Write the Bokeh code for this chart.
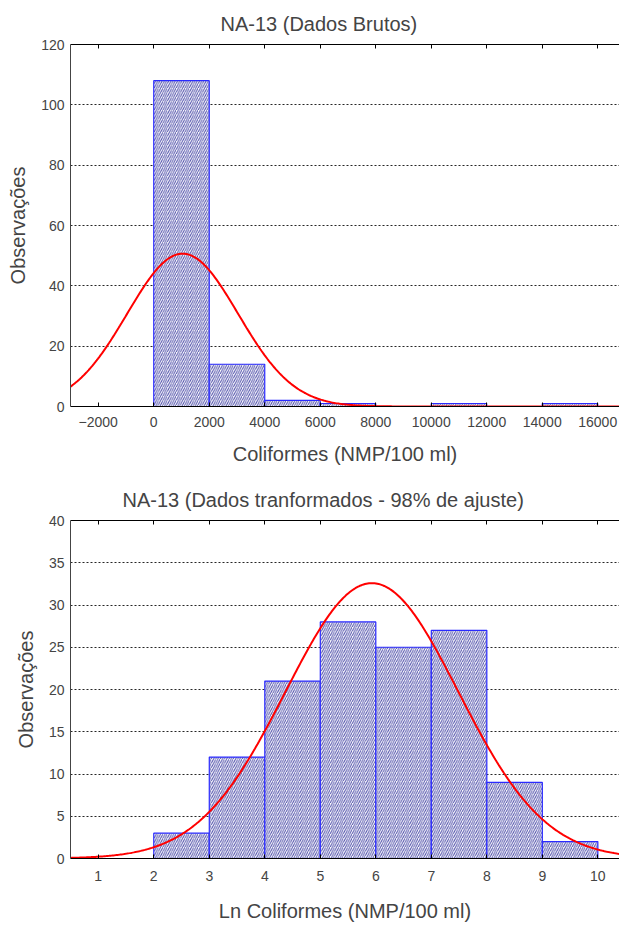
import numpy as np
from bokeh.plotting import figure
from bokeh.layouts import column
from bokeh.models import Range1d, FixedTicker, LinearAxis, Title
from bokeh.embed import file_html
from bokeh.resources import INLINE

# ---- data: raw data histogram ----
raw_left = [-2000, 0, 2000, 4000, 6000, 8000, 10000, 12000, 14000]
raw_right = [0, 2000, 4000, 6000, 8000, 10000, 12000, 14000, 16000]
raw_counts = [0, 108, 14, 2, 1, 0, 1, 0, 1]
raw_xticks = [-2000, 0, 2000, 4000, 6000, 8000, 10000, 12000, 14000, 16000]
raw_yticks = [0, 20, 40, 60, 80, 100, 120]
raw_fit_mean = 1040.0
raw_fit_sd = 2000.0

# ---- data: ln-transformed histogram ----
ln_left = [1, 2, 3, 4, 5, 6, 7, 8, 9]
ln_right = [2, 3, 4, 5, 6, 7, 8, 9, 10]
ln_counts = [0, 3, 12, 21, 28, 25, 27, 9, 2]
ln_xticks = [1, 2, 3, 4, 5, 6, 7, 8, 9, 10]
ln_yticks = [0, 5, 10, 15, 20, 25, 30, 35, 40]
ln_fit_mean = 5.93
ln_fit_sd = 1.555

FONT = "Liberation Sans"


def normal_curve(x, n, width, mu, sd):
    return n * width / (sd * np.sqrt(2 * np.pi)) * np.exp(-0.5 * ((x - mu) / sd) ** 2)


def make_hist(title, xlabel, left, right, counts, xticks, yticks, xr, yr,
              mu, sd, height, bl, bt, bb, title_offset, title_standoff,
              tick_standoff, label_standoff):
    p = figure(width=619, height=height, x_range=Range1d(*xr), y_range=Range1d(*yr),
               output_backend="svg", toolbar_location=None,
               min_border_left=bl, min_border_right=0, min_border_top=bt,
               min_border_bottom=bb)
    p.outline_line_color = None
    p.background_fill_color = "white"
    xa = p.below[0]
    ya = p.left[0]

    top = LinearAxis(ticker=FixedTicker(ticks=[], minor_ticks=xticks),
                     major_tick_in=0, major_tick_out=0,
                     minor_tick_in=4, minor_tick_out=0, minor_tick_line_color="black",
                     major_label_standoff=0, axis_line_color="black")
    p.add_layout(top, "above")
    t = Title(text=title, text_font=FONT, text_font_size="20px", text_font_style="normal",
              align="left", offset=title_offset, standoff=title_standoff)
    p.add_layout(t, "above")

    p.quad(left=left, right=right, bottom=0, top=counts,
           fill_color="#ffffff", line_color="#2a2aff", line_width=1.2,
           hatch_pattern="/", hatch_color="#34349c", hatch_scale=4.4, hatch_weight=1.0,
           hatch_alpha=0.85)

    width = right[0] - left[0]
    n = sum(counts)
    xs = np.linspace(xr[0], xr[1], 400)
    p.line(xs, normal_curve(xs, n, width, mu, sd), line_color="#ff0000", line_width=2)

    p.xgrid.visible = False
    p.ygrid.grid_line_color = "black"
    p.ygrid.grid_line_dash = "2 2"
    p.ygrid.grid_line_width = 1
    p.ygrid.grid_line_alpha = 0.85
    p.ygrid.ticker = FixedTicker(ticks=yticks)

    xa.ticker = FixedTicker(ticks=xticks)
    xa.major_tick_in = 4
    xa.major_tick_out = 0
    xa.minor_tick_line_color = None
    xa.axis_line_color = "black"
    xa.major_label_text_font = FONT
    xa.major_label_text_font_size = "14px"
    xa.major_label_standoff = tick_standoff
    xa.axis_label = xlabel
    xa.axis_label_text_font = FONT
    xa.axis_label_text_font_size = "20px"
    xa.axis_label_text_font_style = "normal"
    xa.axis_label_standoff = label_standoff

    ya.ticker = FixedTicker(ticks=yticks)
    ya.major_tick_in = 0
    ya.major_tick_out = 0
    ya.minor_tick_line_color = None
    ya.axis_line_color = "#444444"
    ya.major_label_text_font = FONT
    ya.major_label_text_font_size = "14px"
    ya.major_label_standoff = 6
    ya.axis_label = "Observações"
    ya.axis_label_text_font = FONT
    ya.axis_label_text_font_size = "20px"
    ya.axis_label_text_font_style = "normal"
    ya.axis_label_standoff = 9
    return p


p1 = make_hist("NA-13 (Dados Brutos)", "Coliformes (NMP/100 ml)",
               raw_left, raw_right, raw_counts, raw_xticks, raw_yticks,
               (-3000, 16784), (0, 120), raw_fit_mean, raw_fit_sd,
               height=473, bl=70, bt=44, bb=67, title_offset=150, title_standoff=19,
               tick_standoff=10, label_standoff=13)
p2 = make_hist("NA-13 (Dados tranformados - 98% de ajuste)", "Ln Coliformes (NMP/100 ml)",
               ln_left, ln_right, ln_counts, ln_xticks, ln_yticks,
               (0.5, 10.39), (0, 40), ln_fit_mean, ln_fit_sd,
               height=473, bl=62, bt=47, bb=88, title_offset=52, title_standoff=19,
               tick_standoff=12, label_standoff=16)

layout = column(p1, p2, spacing=0)
open("out.html", "w").write(file_html(layout, INLINE))
